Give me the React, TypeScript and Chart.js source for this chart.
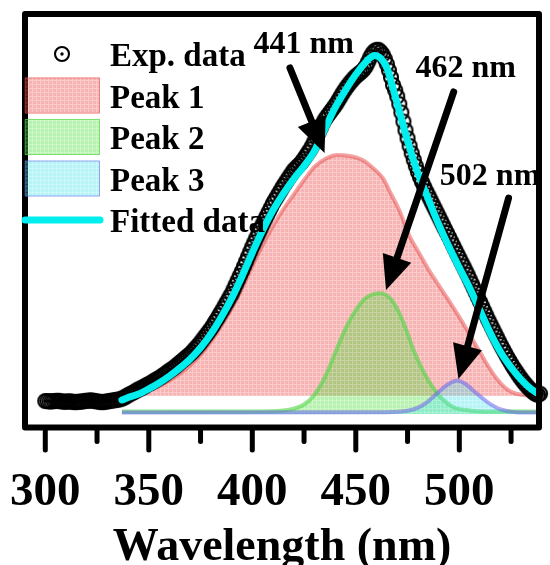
import React, { useEffect, useRef } from 'react';
import { Chart, registerables } from 'chart.js';

Chart.register(...registerables);

const FONT = "'Liberation Serif', 'Times New Roman', Times, serif";

// ---------- Experimental data (1 nm steps) ----------
const expNm = [
  300, 301, 302, 303, 304, 305, 306, 307, 308, 309,
  310, 311, 312, 313, 314, 315, 316, 317, 318, 319,
  320, 321, 322, 323, 324, 325, 326, 327, 328, 329,
  330, 331, 332, 333, 334, 335, 336, 337, 338, 339,
  340, 341, 342, 343, 344, 345, 346, 347, 348, 349,
  350, 351, 352, 353, 354, 355, 356, 357, 358, 359,
  360, 361, 362, 363, 364, 365, 366, 367, 368, 369,
  370, 371, 372, 373, 374, 375, 376, 377, 378, 379,
  380, 381, 382, 383, 384, 385, 386, 387, 388, 389,
  390, 391, 392, 393, 394, 395, 396, 397, 398, 399,
  400, 401, 402, 403, 404, 405, 406, 407, 408, 409,
  410, 411, 412, 413, 414, 415, 416, 417, 418, 419,
  420, 421, 422, 423, 424, 425, 426, 427, 428, 429,
  430, 431, 432, 433, 434, 435, 436, 437, 438, 439,
  440, 441, 442, 443, 444, 445, 446, 447, 448, 449,
  450, 451, 452, 453, 454, 455, 456, 457, 458, 459,
  460, 461, 462, 463, 464, 465, 466, 467, 468, 469,
  470, 471, 472, 473, 474, 475, 476, 477, 478, 479,
  480, 481, 482, 483, 484, 485, 486, 487, 488, 489,
  490, 491, 492, 493, 494, 495, 496, 497, 498, 499,
  500, 501, 502, 503, 504, 505, 506, 507, 508, 509,
  510, 511, 512, 513, 514, 515, 516, 517, 518, 519,
  520, 521, 522, 523, 524, 525, 526, 527, 528, 529,
  530, 531, 532, 533, 534, 535, 536, 537, 538, 539,
  540, 541,
];
const expIntensity = [
  -0.003, -0.003, -0.004, -0.004, -0.003, -0.003, -0.002, -0.003, -0.004, -0.005,
  -0.005, -0.004, -0.004, -0.005, -0.006, -0.006, -0.005, -0.005, -0.004, -0.003,
  -0.002, -0.002, -0.001, -0.002, -0.003, -0.004, -0.005, -0.006, -0.006, -0.005,
  -0.004, -0.003, -0.002, -0.001, 0.000, 0.001, 0.002, 0.004, 0.007, 0.010,
  0.014, 0.017, 0.020, 0.023, 0.027, 0.030, 0.033, 0.036, 0.039, 0.043,
  0.046, 0.049, 0.053, 0.056, 0.060, 0.063, 0.067, 0.071, 0.075, 0.080,
  0.084, 0.088, 0.092, 0.097, 0.102, 0.107, 0.112, 0.117, 0.122, 0.127,
  0.132, 0.138, 0.145, 0.151, 0.158, 0.165, 0.173, 0.181, 0.189, 0.197,
  0.205, 0.214, 0.224, 0.233, 0.243, 0.253, 0.263, 0.274, 0.284, 0.295,
  0.305, 0.318, 0.331, 0.344, 0.357, 0.370, 0.384, 0.398, 0.412, 0.426,
  0.440, 0.453, 0.466, 0.479, 0.492, 0.505, 0.517, 0.529, 0.541, 0.553,
  0.565, 0.575, 0.585, 0.595, 0.605, 0.615, 0.624, 0.633, 0.642, 0.651,
  0.660, 0.666, 0.672, 0.678, 0.685, 0.693, 0.702, 0.711, 0.720, 0.731,
  0.743, 0.755, 0.768, 0.781, 0.794, 0.805, 0.814, 0.822, 0.830, 0.838,
  0.846, 0.855, 0.865, 0.875, 0.885, 0.894, 0.902, 0.910, 0.917, 0.924,
  0.930, 0.935, 0.940, 0.945, 0.951, 0.960, 0.972, 0.985, 0.995, 1.002,
  1.006, 1.006, 1.000, 0.992, 0.980, 0.965, 0.947, 0.927, 0.905, 0.890,
  0.872, 0.850, 0.826, 0.800, 0.775, 0.752, 0.730, 0.709, 0.690, 0.672,
  0.655, 0.640, 0.626, 0.613, 0.600, 0.588, 0.576, 0.564, 0.552, 0.540,
  0.528, 0.516, 0.504, 0.492, 0.480, 0.468, 0.456, 0.444, 0.432, 0.420,
  0.408, 0.396, 0.384, 0.372, 0.360, 0.347, 0.334, 0.321, 0.308, 0.295,
  0.282, 0.269, 0.256, 0.243, 0.230, 0.218, 0.206, 0.194, 0.182, 0.170,
  0.158, 0.147, 0.136, 0.125, 0.115, 0.105, 0.095, 0.086, 0.077, 0.068,
  0.060, 0.052, 0.045, 0.038, 0.032, 0.026, 0.021, 0.017, 0.015, 0.018,
  0.030, 0.050,
];

// ---------- Fitted curve ----------
const fitNm = [337, 340, 345, 350, 355, 360, 365, 370, 375, 380, 385, 390, 395, 400, 405, 410, 415, 420, 425, 430, 435, 440, 445, 450, 455, 459, 462, 465, 468, 471, 475, 480, 485, 490, 495, 500, 505, 510, 515, 520, 525, 530, 535, 538.5];
const fitIntensity = [0.000, 0.007, 0.017, 0.032, 0.049, 0.069, 0.092, 0.118, 0.150, 0.190, 0.238, 0.292, 0.355, 0.423, 0.488, 0.545, 0.593, 0.635, 0.672, 0.715, 0.778, 0.840, 0.890, 0.935, 0.972, 0.990, 0.982, 0.955, 0.895, 0.830, 0.745, 0.652, 0.578, 0.505, 0.440, 0.380, 0.322, 0.257, 0.192, 0.137, 0.094, 0.058, 0.030, 0.017];

// ---------- Peak 1 (441 nm) ----------
const peak1Nm = [337, 345, 350, 355, 360, 365, 370, 375, 380, 385, 390, 395, 400, 405, 410, 415, 420, 425, 430, 435, 441, 447, 453, 458, 463, 467, 471, 476, 480, 485, 490, 495, 500, 505, 510, 514, 518, 522, 526, 530, 538.5];
const peak1Intensity = [0.010, 0.018, 0.027, 0.040, 0.056, 0.076, 0.100, 0.130, 0.168, 0.213, 0.263, 0.320, 0.385, 0.445, 0.500, 0.548, 0.590, 0.632, 0.670, 0.692, 0.704, 0.701, 0.690, 0.668, 0.638, 0.592, 0.545, 0.470, 0.428, 0.376, 0.330, 0.285, 0.238, 0.188, 0.137, 0.097, 0.062, 0.036, 0.021, 0.015, 0.012];
const peak1Base = 0.012;

// ---------- Peak 2 (462 nm) ----------
const peak2Nm = [337, 400, 415, 420, 425, 430, 435, 440, 445, 450, 455, 462, 467, 471, 475, 478, 483, 488, 492, 497, 505, 515, 538.5];
const peak2Intensity = [-0.033, -0.033, -0.030, -0.025, -0.013, 0.015, 0.065, 0.135, 0.205, 0.258, 0.294, 0.307, 0.290, 0.250, 0.192, 0.142, 0.078, 0.030, 0.002, -0.020, -0.030, -0.033, -0.033];
const peak2Base = -0.04;

// ---------- Peak 3 (502 nm) ----------
const peak3Nm = [337, 465, 475, 480, 484, 488, 492, 495, 499, 503, 507, 511, 515, 520, 527, 538.5];
const peak3Intensity = [-0.036, -0.035, -0.031, -0.022, -0.008, 0.012, 0.034, 0.047, 0.056, 0.046, 0.026, 0.006, -0.012, -0.027, -0.035, -0.036];
const peak3Base = -0.04;

// ---------- Axis ----------
const xMin = 290.2;
const xMax = 538.5;
const yMin = -0.079;
const yMax = 1.109;
const xTickValues = [300, 325, 350, 375, 400, 425, 450, 475, 500, 525];
const xTickLabels = ['300', '', '350', '', '400', '', '450', '', '500', ''];
const xTitle = 'Wavelength (nm)';

// ---------- Legend & annotations ----------
const legendLabels = ['Exp. data', 'Peak 1', 'Peak 2', 'Peak 3', 'Fitted data'];
const peakLabels = ['441 nm', '462 nm', '502 nm'];
const labelNm = [400.6, 478.8, 490.6];
const labelIntensity = [0.997, 0.928, 0.618];
const arrowFromNm = [418.2, 497.3, 523.8];
const arrowFromIntensity = [0.954, 0.885, 0.580];
const arrowToNm = [434.9, 464.6, 499.6];
const arrowToIntensity = [0.710, 0.316, 0.060];

const toPoints = (xs: number[], ys: number[]) => xs.map((x, i) => ({ x, y: ys[i] }));

function makePattern(base: string, light: string) {
  const c = document.createElement('canvas');
  c.width = 4;
  c.height = 4;
  const g = c.getContext('2d')!;
  g.fillStyle = base;
  g.fillRect(0, 1, 4, 3);
  g.clearRect(0, 1, 1, 3);
  g.fillStyle = light;
  g.fillRect(0, 0, 4, 1);
  g.fillRect(0, 1, 1, 3);
  return g.createPattern(c, 'repeat')!;
}

function makeMarker() {
  const c = document.createElement('canvas');
  c.width = 20;
  c.height = 20;
  const g = c.getContext('2d')!;
  g.strokeStyle = '#000';
  g.lineWidth = 2.1;
  g.beginPath();
  g.arc(10, 10, 7, 0, Math.PI * 2);
  g.stroke();
  g.fillStyle = '#000';
  g.beginPath();
  g.arc(10, 10, 1.7, 0, Math.PI * 2);
  g.fill();
  return c;
}

export default function App() {
  const ref = useRef<HTMLCanvasElement | null>(null);

  useEffect(() => {
    const canvas = ref.current;
    if (!canvas) return;

    const marker = makeMarker();
    const fill1 = makePattern('rgba(236,82,82,0.44)', 'rgba(236,82,82,0.30)');
    const fill2 = makePattern('rgba(92,224,72,0.44)', 'rgba(92,224,72,0.30)');
    const fill3 = makePattern('rgba(80,226,236,0.42)', 'rgba(80,226,236,0.28)');
    const line1 = 'rgba(232,72,72,0.5)';
    const line2 = 'rgba(80,214,70,0.6)';
    const line3 = 'rgba(110,100,235,0.55)';
    const cyan = '#00EEEE';

    const decor = {
      id: 'decor',
      afterDatasetsDraw(chart: any) {
        const { ctx, chartArea: a, scales } = chart;
        const xs = scales.x;
        const ys = scales.y;
        ctx.save();

        // arrows
        ctx.strokeStyle = '#000';
        ctx.fillStyle = '#000';
        for (let i = 0; i < arrowFromNm.length; i++) {
          const x0 = xs.getPixelForValue(arrowFromNm[i]);
          const y0 = ys.getPixelForValue(arrowFromIntensity[i]);
          const x1 = xs.getPixelForValue(arrowToNm[i]);
          const y1 = ys.getPixelForValue(arrowToIntensity[i]);
          const ang = Math.atan2(y1 - y0, x1 - x0);
          const headLen = 34;
          const headW = 15;
          const cos = Math.cos(ang);
          const sin = Math.sin(ang);
          const bx = x1 - headLen * cos;
          const by = y1 - headLen * sin;
          ctx.lineWidth = 7;
          ctx.lineCap = 'round';
          ctx.beginPath();
          ctx.moveTo(x0, y0);
          ctx.lineTo(bx + 6 * cos, by + 6 * sin);
          ctx.stroke();
          ctx.beginPath();
          ctx.moveTo(x1, y1);
          ctx.lineTo(bx + headW * sin, by - headW * cos);
          ctx.lineTo(bx - headW * sin, by + headW * cos);
          ctx.closePath();
          ctx.fill();
        }

        // frame
        ctx.lineWidth = 6;
        ctx.lineJoin = 'round';
        ctx.strokeStyle = '#000';
        ctx.strokeRect(a.left, a.top, a.right - a.left, a.bottom - a.top);

        // tick marks
        ctx.lineCap = 'round';
        ctx.lineWidth = 5;
        xs.ticks.forEach((t: any, i: number) => {
          const px = xs.getPixelForValue(t.value);
          const major = xTickLabels[i] !== '';
          ctx.beginPath();
          ctx.moveTo(px, a.bottom);
          ctx.lineTo(px, a.bottom + (major ? 22.5 : 14));
          ctx.stroke();
        });

        // peak labels
        ctx.font = `bold 32px ${FONT}`;
        ctx.textBaseline = 'alphabetic';
        ctx.textAlign = 'left';
        ctx.fillStyle = '#000';
        for (let i = 0; i < peakLabels.length; i++) {
          ctx.fillText(peakLabels[i], xs.getPixelForValue(labelNm[i]), ys.getPixelForValue(labelIntensity[i]));
        }

        // legend
        const lx = a.left;
        const base0 = a.top + 52;
        const step = 41.5;
        const fills = [fill1, fill2, fill3];
        const strokes = [line1, line2, line3];
        ctx.drawImage(marker, lx + 37 - marker.width / 2, base0 - 12 - marker.height / 2);
        for (let k = 0; k < 3; k++) {
          const bl = base0 + step * (k + 1);
          ctx.fillStyle = fills[k];
          ctx.fillRect(lx, bl - 30, 75, 36);
          ctx.strokeStyle = strokes[k];
          ctx.lineWidth = 1;
          ctx.strokeRect(lx + 0.5, bl - 29.5, 74, 35);
        }
        const fy = base0 + step * 4 - 12;
        ctx.strokeStyle = cyan;
        ctx.lineWidth = 7;
        ctx.lineCap = 'round';
        ctx.beginPath();
        ctx.moveTo(lx, fy);
        ctx.lineTo(lx + 75, fy);
        ctx.stroke();
        ctx.fillStyle = '#000';
        ctx.font = `bold 33px ${FONT}`;
        legendLabels.forEach((lab, k) => {
          ctx.fillText(lab, lx + 85, base0 + step * k);
        });

        ctx.restore();
      },
    };

    const chart = new Chart(canvas, {
      type: 'line',
      data: {
        datasets: [
          {
            label: 'Fitted data',
            data: toPoints(fitNm, fitIntensity),
            borderColor: cyan,
            borderWidth: 7,
            borderCapStyle: 'round',
            borderJoinStyle: 'round',
            pointRadius: 0,
            fill: false,
            cubicInterpolationMode: 'monotone',
            order: 0,
          },
          {
            label: 'Exp. data',
            data: toPoints(expNm, expIntensity),
            showLine: false,
            pointStyle: marker,
            pointRadius: 9,
            pointBorderWidth: 2,
            clip: false,
            order: 1,
          },
          {
            label: 'Peak 3',
            data: toPoints(peak3Nm, peak3Intensity),
            borderColor: line3,
            borderWidth: 4,
            backgroundColor: fill3,
            fill: { value: peak3Base },
            pointRadius: 0,
            cubicInterpolationMode: 'monotone',
            order: 2,
          },
          {
            label: 'Peak 2',
            data: toPoints(peak2Nm, peak2Intensity),
            borderColor: line2,
            borderWidth: 4,
            backgroundColor: fill2,
            fill: { value: peak2Base },
            pointRadius: 0,
            cubicInterpolationMode: 'monotone',
            order: 3,
          },
          {
            label: 'Peak 1',
            data: toPoints(peak1Nm, peak1Intensity),
            borderColor: line1,
            borderWidth: 4,
            backgroundColor: fill1,
            fill: { value: peak1Base },
            pointRadius: 0,
            cubicInterpolationMode: 'monotone',
            order: 4,
          },
        ] as any,
      },
      options: {
        responsive: false,
        animation: false,
        devicePixelRatio: 1,
        events: [],
        layout: { padding: { left: 25, right: 1, top: 14, bottom: 0 } },
        plugins: {
          legend: { display: false },
          tooltip: { enabled: false },
        },
        scales: {
          x: {
            type: 'linear',
            min: xMin,
            max: xMax,
            grid: { display: false },
            border: { display: false },
            afterBuildTicks: (scale: any) => {
              scale.ticks = xTickValues.map((v) => ({ value: v }));
            },
            afterFit: (scale: any) => {
              scale.height = 137.5;
              scale.paddingLeft = 0;
              scale.paddingRight = 0;
              scale.paddingTop = 0;
              scale.paddingBottom = 0;
            },
            ticks: {
              autoSkip: false,
              maxRotation: 0,
              minRotation: 0,
              padding: 34,
              color: '#000',
              font: { family: FONT, size: 47, weight: 'bold', lineHeight: 1 },
              callback: (_v: any, i: number) => xTickLabels[i],
            },
            title: {
              display: true,
              text: xTitle,
              color: '#000',
              font: { family: FONT, size: 46, weight: 'bold', lineHeight: 1 },
              padding: { top: 0, bottom: -6 },
            },
          },
          y: {
            type: 'linear',
            display: false,
            min: yMin,
            max: yMax,
          },
        },
      } as any,
      plugins: [decor],
    });

    return () => chart.destroy();
  }, []);

  return (
    <div style={{ position: 'fixed', left: 0, top: 0, width: 550, height: 565, background: '#fff' }}>
      <canvas ref={ref} width={550} height={565} style={{ width: 550, height: 565, display: 'block' }} />
    </div>
  );
}
